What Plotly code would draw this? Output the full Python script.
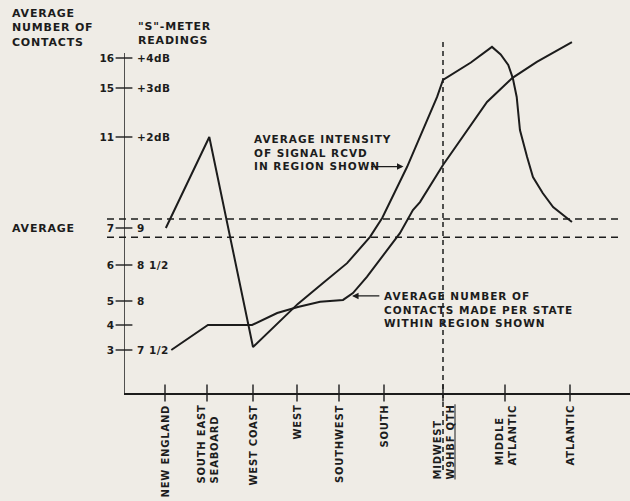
import numpy as np
import plotly.graph_objects as go

# ---- data -------------------------------------------------------------
REGIONS = [
    "NEW ENGLAND",
    "SOUTH EAST<br>SEABOARD",
    "WEST COAST",
    "WEST",
    "SOUTHWEST",
    "SOUTH",
    "MIDWEST<br>W9HBF QTH",
    "MIDDLE<br>ATLANTIC",
    "ATLANTIC",
]
HOME_REGION = 6  # Midwest, the home station's region
HOME_LABEL_LINE = "W9HBF QTH"

# shared vertical scale: contacts (left) and S-meter readings (right)
SCALE_VALUES = [3, 4, 5, 6, 7, 11, 15, 16]
CONTACT_LABELS = ["3", "4", "5", "6", "7", "11", "15", "16"]
S_METER_LABELS = ["7 1/2", "", "8", "8 1/2", "9", "+2dB", "+3dB", "+4dB"]
AVERAGE_BAND = [6.75, 7.4]

# average signal intensity (region index, level on the shared scale)
signal_region = [0.02, 1.05, 2.0, 2.61, 3.02, 3.62, 4.18, 4.69, 4.96, 5.39, 5.61,
                 5.90, 6.0, 6.45, 6.79, 6.93, 7.05, 7.12, 7.18, 7.23, 7.34, 7.43,
                 7.58, 7.74, 8.03]
signal_level = [7.0, 11.0, 3.12, 4.17, 4.88, 5.5, 6.05, 6.76, 7.44, 9.68, 11.0,
                14.27, 15.27, 15.85, 16.37, 16.12, 15.77, 15.33, 14.27, 11.57, 10.12, 9.24,
                8.54, 7.92, 7.26]

# average number of contacts per state
contacts_region = [0.15, 1.02, 1.98, 2.55, 3.02, 3.55, 4.09, 4.31, 4.62, 4.91, 5.27,
                   5.49, 5.61, 6.0, 6.32, 6.71, 7.11, 7.49, 8.03]
contacts_level = [3.0, 4.0, 4.0, 4.5, 4.75, 4.97, 5.03, 5.22, 5.67, 6.14, 6.86,
                  7.79, 8.14, 9.77, 11.0, 13.86, 15.33, 15.87, 16.53]

# ---- layout of the hand-drawn scales (axis units) ----------------------
REGION_POS = [4.1, 8.3, 12.9, 17.3, 21.5, 26.0, 31.9, 38.1, 44.6]
SCALE_POS = [4.3, 6.8, 9.2, 12.8, 16.5, 25.6, 30.5, 33.5]
X_RANGE = [0, 50.6]
Y_RANGE = [0, 36.3]

INK = "#1c1c1c"
PAPER = "#efece6"
FONT = "DejaVu Sans"


def xpos(idx):
    i = np.arange(-1, len(REGION_POS) + 1)
    p = [REGION_POS[0] - 4.2] + REGION_POS + [REGION_POS[-1] + 6.5]
    return np.interp(idx, i, p)


def ypos(v):
    vals = [0] + SCALE_VALUES + [20]
    pos = [SCALE_POS[0] - 7.5] + SCALE_POS + [SCALE_POS[-1] + 12.0]
    return np.interp(v, vals, pos)


def lettered(text, spacing=1.0, underline=()):
    """Widely spaced stencil-style lettering, one span per line."""
    out = []
    for line in text.split("<br>"):
        style = f"letter-spacing:{spacing}px"
        if line in underline:
            style += ";text-decoration:underline"
        out.append(f'<span style="{style}">{line}</span>')
    return "<br>".join(out)


fig = go.Figure()

fig.add_trace(go.Scatter(
    x=xpos(signal_region), y=ypos(signal_level), mode="lines",
    line=dict(color=INK, width=2), hoverinfo="skip", showlegend=False))
fig.add_trace(go.Scatter(
    x=xpos(contacts_region), y=ypos(contacts_level), mode="lines",
    line=dict(color=INK, width=2), hoverinfo="skip", showlegend=False))

# crossing tick marks on both axes
fig.add_trace(go.Scatter(
    x=[0] * len(SCALE_VALUES), y=ypos(SCALE_VALUES), mode="markers",
    marker=dict(symbol="line-ew", size=12, line=dict(color=INK, width=1.4)),
    cliponaxis=False, hoverinfo="skip", showlegend=False))
fig.add_trace(go.Scatter(
    x=REGION_POS, y=[0] * len(REGION_POS), mode="markers",
    marker=dict(symbol="line-ns", size=12, line=dict(color=INK, width=1.4)),
    cliponaxis=False, hoverinfo="skip", showlegend=False))

shapes = [
    # vertical scale line
    dict(type="line", xref="x", yref="y", x0=0, x1=0, y0=0, y1=ypos(16.17),
         line=dict(color=INK, width=1.5)),
    # marker through the home region
    dict(type="line", xref="x", yref="paper",
         x0=xpos(HOME_REGION), x1=xpos(HOME_REGION),
         y0=-7.7 / Y_RANGE[1], y1=35.5 / Y_RANGE[1],
         line=dict(color=INK, width=1.5, dash="5px,4px")),
]
for v in AVERAGE_BAND:
    shapes.append(dict(type="line", xref="paper", yref="y",
                       x0=-1.7 / X_RANGE[1], x1=49.6 / X_RANGE[1],
                       y0=ypos(v), y1=ypos(v),
                       line=dict(color=INK, width=1.5, dash="7px,5px")))

annotations = []
# S-meter readings to the right of the scale line
for v, lab in zip(SCALE_VALUES, S_METER_LABELS):
    if lab:
        annotations.append(dict(x=0, y=ypos(v), xref="x", yref="y",
                                text=lettered(lab, 0.5),
                                xanchor="left", yanchor="middle", xshift=11,
                                showarrow=False))
# region names under the baseline
for p, name in zip(REGION_POS, REGIONS):
    annotations.append(dict(x=p, y=0, xref="x", yref="y",
                            text=lettered(name, 0.8, underline=(HOME_LABEL_LINE,)),
                            textangle=-90, align="left", xanchor="center",
                            yanchor="top", yshift=-10, showarrow=False,
                            font=dict(size=10)))

annotations += [
    dict(x=-114 / 506, y=1.07, xref="paper", yref="paper",
         text=lettered("AVERAGE<br>NUMBER OF<br>CONTACTS", 0.8), align="left",
         xanchor="left", yanchor="top", showarrow=False, font=dict(size=11)),
    dict(x=12 / 506, y=1.07 - 13 / 363, xref="paper", yref="paper",
         text=lettered("\"S\"-METER<br>READINGS", 0.8), align="left",
         xanchor="left", yanchor="top", showarrow=False, font=dict(size=11)),
    dict(x=0, y=ypos(7), xref="x", yref="y", text=lettered("AVERAGE", 0.8),
         xanchor="left", yanchor="middle", xshift=-114, showarrow=False,
         font=dict(size=11)),
    # callout for the signal curve
    dict(x=xpos(1.98), y=ypos(10.34), xref="x", yref="y",
         text=lettered("AVERAGE INTENSITY<br>OF SIGNAL RCVD<br>IN REGION SHOWN", 1.0),
         align="left", xanchor="left", yanchor="middle", showarrow=False),
    dict(x=xpos(5.33), y=ypos(9.7), xref="x", yref="y", text="",
         ax=xpos(4.68), ay=ypos(9.7), axref="x", ayref="y",
         showarrow=True, arrowhead=2, arrowsize=1, arrowwidth=1.3,
         arrowcolor=INK),
    # callout for the contacts curve
    dict(x=xpos(4.96), y=ypos(4.65), xref="x", yref="y",
         text=lettered("AVERAGE NUMBER OF<br>CONTACTS MADE PER STATE<br>WITHIN REGION SHOWN", 1.0),
         align="left", xanchor="left", yanchor="middle", showarrow=False),
    dict(x=xpos(4.29), y=ypos(5.14), xref="x", yref="y", text="",
         ax=xpos(4.93), ay=ypos(5.14), axref="x", ayref="y",
         showarrow=True, arrowhead=2, arrowsize=1, arrowwidth=1.3,
         arrowcolor=INK),
]

fig.update_layout(
    width=630, height=501,
    margin=dict(l=124, r=0, t=30, b=108),
    paper_bgcolor=PAPER, plot_bgcolor=PAPER,
    font=dict(family=FONT, size=10.5, color=INK, weight="bold"),
    shapes=shapes, annotations=annotations,
    xaxis=dict(range=X_RANGE, showline=True, linecolor=INK, linewidth=1.5,
               showgrid=False, zeroline=False, showticklabels=False, ticks=""),
    yaxis=dict(range=Y_RANGE, showline=False, showgrid=False, zeroline=False,
               tickvals=list(ypos(SCALE_VALUES)), ticktext=CONTACT_LABELS,
               ticks="", ticklabelstandoff=9),
)

fig.write_html("out.html")
